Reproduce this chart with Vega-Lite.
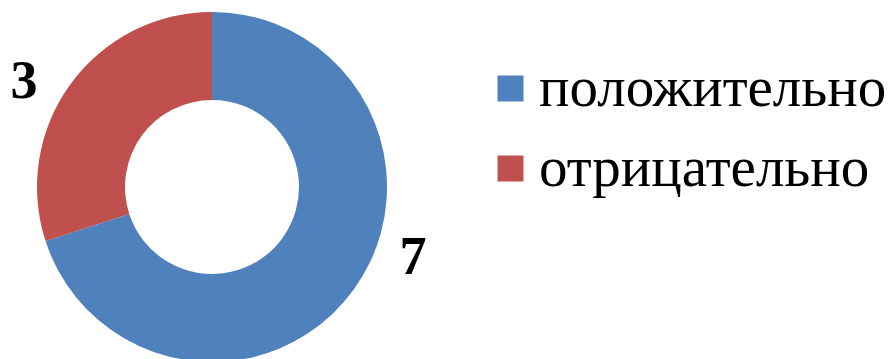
{
  "$schema": "https://vega.github.io/schema/vega-lite/v6.json",
  "width": 424,
  "height": 374,
  "padding": 0,
  "autosize": {"type": "pad"},
  "background": "white",
  "view": {"stroke": null},
  "data": {"values": [
    {"category": "положительно", "value": 7},
    {"category": "отрицательно", "value": 3}
  ]},
  "encoding": {
    "theta": {"field": "value", "type": "quantitative", "stack": true},
    "order": {"field": "value", "type": "quantitative", "sort": "descending"},
    "color": {
      "field": "category", "type": "nominal",
      "scale": {"domain": ["положительно", "отрицательно"], "range": ["#4F81BD", "#C0504D"]},
      "legend": {
        "title": null,
        "orient": "none",
        "legendX": 482,
        "legendY": 60,
        "padding": 0,
        "symbolType": "square",
        "symbolSize": 676,
        "symbolStrokeWidth": 0,
        "symbolOpacity": 1,
        "labelFont": "Liberation Serif",
        "labelFontSize": 57,
        "labelColor": "#000000",
        "labelOffset": 0,
        "labelLimit": 600,
        "rowPadding": 22
      }
    }
  },
  "layer": [
    {"mark": {"type": "arc", "outerRadius": 175, "innerRadius": 87}},
    {
      "mark": {"type": "text", "radius": 215, "dx": -14, "dy": 21, "font": "Liberation Serif", "fontWeight": "bold", "fill": "#000000", "align": "center", "baseline": "middle"},
      "encoding": {
        "text": {"condition": {"test": "datum.category === 'отрицательно'", "field": "value", "type": "quantitative"}, "value": ""},
        "size": {"condition": {"test": "datum.category === 'отрицательно'", "value": 54}, "value": 0},
        "color": {"value": "#000000"}
      }
    },
    {
      "mark": {"type": "text", "radius": 215, "dx": 27, "dy": -55, "font": "Liberation Serif", "fontWeight": "bold", "fill": "#000000", "align": "center", "baseline": "middle"},
      "encoding": {
        "text": {"condition": {"test": "datum.category === 'положительно'", "field": "value", "type": "quantitative"}, "value": ""},
        "size": {"condition": {"test": "datum.category === 'положительно'", "value": 54}, "value": 0},
        "color": {"value": "#000000"}
      }
    }
  ]
}
